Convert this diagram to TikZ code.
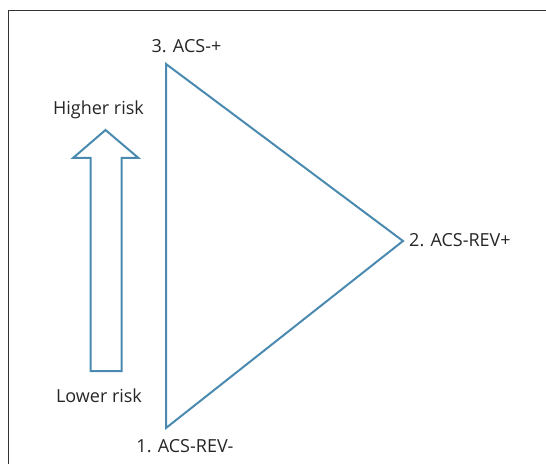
\documentclass[tikz,border=0pt]{standalone}
\usepackage{fontspec}
\setmainfont{Open Sans}
\definecolor{edgeblue}{HTML}{4A8AB0}
\definecolor{framegray}{HTML}{333333}
\begin{document}
\begin{tikzpicture}[x=1bp,y=-1bp,
  lbl/.style={inner sep=0pt,text=black!85,font=\fontsize{18bp}{22bp}\selectfont},
  shapeline/.style={draw=edgeblue,line width=2bp,line join=miter}]
\useasboundingbox (0,0) rectangle (546,464);
% open frame: left and top sides only
\draw[framegray,line width=1.6bp] (8.5,464) -- (8.5,10.7) -- (546,10.7);
% triangle corners
\coordinate (t3) at (166,64);
\coordinate (t2) at (403,241);
\coordinate (t1) at (166,428);
\draw[shapeline] (t3) -- (t2) -- (t1) -- cycle;
% hollow risk arrow
\coordinate (tip) at (105.5,130);
\draw[shapeline] (tip) -- (138.5,158) -- (121.5,158) -- (121.5,371)
  -- (90.5,371) -- (90.5,158) -- (73,158) -- cycle;
% labels
\node[lbl,anchor=base] (l3) at (186.5,53) {3. ACS-+};
\node[lbl,anchor=base] (hi) at (98.5,115) {Higher risk};
\node[lbl,anchor=base] (lo) at (99,402) {Lower risk};
\node[lbl,anchor=base] (l1) at (185,452) {1. ACS-REV-};
\node[lbl,anchor=base west] (l2) at (409,247) {2. ACS-REV+};
\end{tikzpicture}
\end{document}
